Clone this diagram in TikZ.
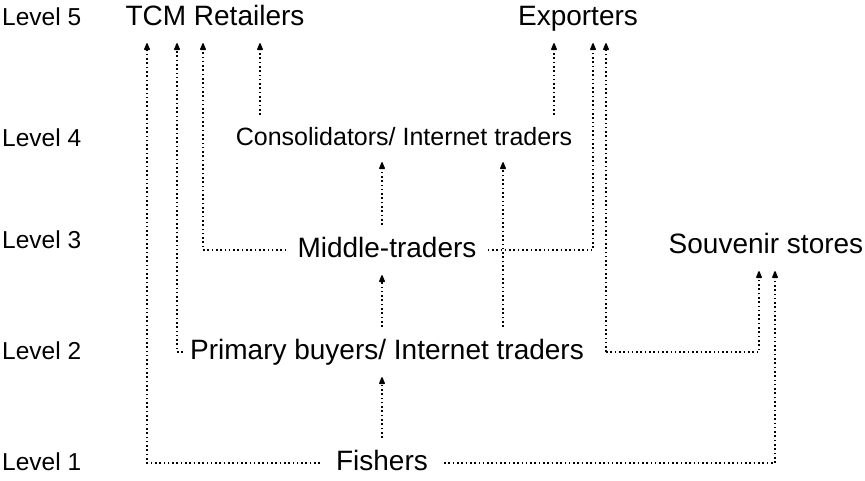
\documentclass[tikz,border=0pt]{standalone}
\usepackage{fontspec}
\setmainfont{Liberation Sans}
\usepackage{tikz}
\usetikzlibrary{arrows.meta}
\def\drawflow{\draw[line width=1.8pt,dash pattern=on 1.6pt off 2.7pt,-{Latex[round,length=10pt,width=7pt]}]}
\def\levelnode{\node[anchor=base west,inner sep=0pt,font=\fontsize{24.5}{28}\selectfont]}

\begin{document}
\begin{tikzpicture}[x=1pt,y=-1pt,
  actor/.style={anchor=base,font=\fontsize{28}{32}\selectfont,text height=20pt,text depth=6pt,inner ysep=12pt},
  small actor/.style={anchor=base,font=\fontsize{25}{28}\selectfont,text height=18pt,text depth=5pt,inner ysep=12pt}]
\useasboundingbox (0,0) rectangle (865,480);
\foreach \lv/\y in {5/25,4/146,3/248,2/359,1/470}
  \levelnode (level\lv) at (2,\y) {Level \lv};
\node[actor] (tcm) at (215,25) {TCM Retailers};
\node[actor] (expo) at (578,25) {Exporters};
\node[small actor] (cons) at (404,145) {Consolidators/ Internet traders};
\node[actor,inner xsep=11pt] (mid) at (387,257) {Middle-traders};
\node[actor] (souv) at (766,253) {Souvenir stores};
\node[actor,inner xsep=7pt] (prim) at (387,359) {Primary buyers/ Internet traders};
\node[actor,inner xsep=16pt] (fish) at (382,470) {Fishers};
% arrow ends
\coordinate (tcmA) at ([xshift=-68pt]tcm.south);
\coordinate (tcmB) at ([xshift=-38pt]tcm.south);
\coordinate (tcmC) at ([xshift=-12pt]tcm.south);
\coordinate (tcmD) at ([xshift=45pt]tcm.south);
\coordinate (expA) at ([xshift=-24pt]expo.south);
\coordinate (expB) at ([xshift=15pt]expo.south);
\coordinate (expC) at ([xshift=28pt]expo.south);
\coordinate (consB) at ([xshift=99pt]cons.south);
\coordinate (souA) at ([xshift=-7pt]souv.south);
\coordinate (souB) at ([xshift=9pt]souv.south);
\coordinate (primR) at ([xshift=15pt]prim.east);
% fishers
\drawflow (fish.west) -| (tcmA);
\drawflow (fish.east) -| (souB);
\drawflow (fish.north) -- (fish.north |- prim.south);
% primary buyers
\drawflow (prim.west) -| (tcmB);
\drawflow (primR) -| (souA);
\drawflow (prim.east -| expC) -- (expC);
\drawflow (fish.north |- prim.north) -- (fish.north |- mid.south);
\drawflow (prim.north -| consB) -- (consB);
% middle-traders
\drawflow (mid.west) -| (tcmC);
\drawflow (mid.east) -| (expB);
\drawflow (fish.north |- mid.north) -- (fish.north |- cons.south);
% consolidators
\drawflow (cons.north -| tcmD) -- (tcmD);
\drawflow (cons.north -| expA) -- (expA);
\end{tikzpicture}
\end{document}
